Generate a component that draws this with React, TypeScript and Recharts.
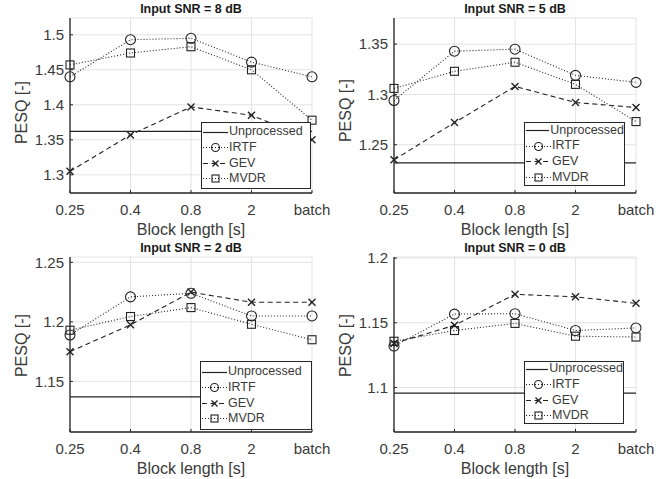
import React from 'react';
import { LineChart, Line, XAxis, YAxis, CartesianGrid } from 'recharts';

// ---------- data ----------
const blockLengths = ['0.25', '0.4', '0.8', '2', 'batch'];
const seriesNames = ['Unprocessed', 'IRTF', 'GEV', 'MVDR'];

const snr8Title = 'Input SNR = 8 dB';
const snr8Unprocessed = 1.362;
const snr8Irtf = [1.44, 1.493, 1.495, 1.461, 1.44];
const snr8Gev = [1.305, 1.357, 1.397, 1.385, 1.35];
const snr8Mvdr = [1.457, 1.474, 1.483, 1.45, 1.378];
const snr8Ticks = [1.3, 1.35, 1.4, 1.45, 1.5];
const snr8Domain: [number, number] = [1.274, 1.524];

const snr5Title = 'Input SNR = 5 dB';
const snr5Unprocessed = 1.232;
const snr5Irtf = [1.294, 1.343, 1.345, 1.319, 1.312];
const snr5Gev = [1.235, 1.272, 1.308, 1.292, 1.287];
const snr5Mvdr = [1.306, 1.323, 1.332, 1.31, 1.273];
const snr5Ticks = [1.25, 1.3, 1.35];
const snr5Domain: [number, number] = [1.202, 1.376];

const snr2Title = 'Input SNR = 2 dB';
const snr2Unprocessed = 1.137;
const snr2Irtf = [1.189, 1.221, 1.224, 1.205, 1.205];
const snr2Gev = [1.175, 1.1975, 1.225, 1.2165, 1.2165];
const snr2Mvdr = [1.193, 1.2045, 1.212, 1.198, 1.185];
const snr2Ticks = [1.15, 1.2, 1.25];
const snr2Domain: [number, number] = [1.1075, 1.2545];

const snr0Title = 'Input SNR = 0 dB';
const snr0Unprocessed = 1.0957;
const snr0Irtf = [1.132, 1.1567, 1.157, 1.144, 1.146];
const snr0Gev = [1.134, 1.148, 1.172, 1.17, 1.165];
const snr0Mvdr = [1.1357, 1.144, 1.1495, 1.1396, 1.139];
const snr0Ticks = [1.1, 1.15, 1.2];
const snr0Domain: [number, number] = [1.0656, 1.2008];

// ---------- styling / layout ----------
const FONT = '"Liberation Sans", Arial, Helvetica, sans-serif';
const INK = '#222222';
const TEXT = '#3a3a3a';
const AXIS = '#262626';
const CHART_W = 335;
const CHART_H = 240;
const MARGIN = { top: 18, right: 23, bottom: 0, left: 0 };
const Y_AXIS_W = 70;
const X_AXIS_H = 47;

type PanelDef = {
  title: string;
  unprocessed: number;
  irtf: number[];
  gev: number[];
  mvdr: number[];
  ticks: number[];
  domain: [number, number];
  left: number;
  top: number;
  legend: { x: number; y: number; w: number; h: number };
  yLabelShift: number;
};

const panels: PanelDef[] = [
  { title: snr8Title, unprocessed: snr8Unprocessed, irtf: snr8Irtf, gev: snr8Gev, mvdr: snr8Mvdr, ticks: snr8Ticks, domain: snr8Domain, left: 0, top: 0, legend: { x: 201, y: 122, w: 110, h: 67 }, yLabelShift: 7 },
  { title: snr5Title, unprocessed: snr5Unprocessed, irtf: snr5Irtf, gev: snr5Gev, mvdr: snr5Mvdr, ticks: snr5Ticks, domain: snr5Domain, left: 324, top: 0, legend: { x: 200, y: 122, w: 101, h: 64 }, yLabelShift: 5 },
  { title: snr2Title, unprocessed: snr2Unprocessed, irtf: snr2Irtf, gev: snr2Gev, mvdr: snr2Mvdr, ticks: snr2Ticks, domain: snr2Domain, left: 0, top: 239, legend: { x: 200, y: 122, w: 112, h: 69 }, yLabelShift: 1 },
  { title: snr0Title, unprocessed: snr0Unprocessed, irtf: snr0Irtf, gev: snr0Gev, mvdr: snr0Mvdr, ticks: snr0Ticks, domain: snr0Domain, left: 324, top: 239, legend: { x: 200, y: 122, w: 100, h: 63 }, yLabelShift: 1 },
];

// ---------- markers ----------
function CircleMark({ cx, cy, r = 5 }: { cx: number; cy: number; r?: number }) {
  return <circle cx={cx} cy={cy} r={r} fill="none" stroke={INK} strokeWidth={1.1} />;
}
function SquareMark({ cx, cy, s = 4 }: { cx: number; cy: number; s?: number }) {
  return <rect x={cx - s} y={cy - s} width={2 * s} height={2 * s} fill="none" stroke={INK} strokeWidth={1.1} />;
}
function CrossMark({ cx, cy, s = 3.5 }: { cx: number; cy: number; s?: number }) {
  return (
    <path
      d={`M${cx - s},${cy - s}L${cx + s},${cy + s}M${cx - s},${cy + s}L${cx + s},${cy - s}`}
      stroke={INK}
      strokeWidth={1.4}
      fill="none"
    />
  );
}

const circleDot = (props: any) =>
  props.cx == null ? <g key={`c${props.index}`} /> : <g key={`c${props.index}`}><CircleMark cx={props.cx} cy={props.cy} /></g>;
const squareDot = (props: any) =>
  props.cx == null ? <g key={`s${props.index}`} /> : <g key={`s${props.index}`}><SquareMark cx={props.cx} cy={props.cy} /></g>;
const crossDot = (props: any) =>
  props.cx == null ? <g key={`x${props.index}`} /> : <g key={`x${props.index}`}><CrossMark cx={props.cx} cy={props.cy} /></g>;

// ---------- legend ----------
function LegendIcon({ name }: { name: string }) {
  const w = 25;
  const y = 7.5;
  if (name === 'Unprocessed')
    return (
      <svg width={w} height={15}>
        <line x1={0} y1={y} x2={w} y2={y} stroke={INK} strokeWidth={1.2} />
      </svg>
    );
  if (name === 'GEV')
    return (
      <svg width={w} height={15}>
        <line x1={0} y1={y} x2={w} y2={y} stroke={INK} strokeWidth={1.1} strokeDasharray="5 3.5" />
        <CrossMark cx={w / 2} cy={y} s={3} />
      </svg>
    );
  return (
    <svg width={w} height={15}>
      <line x1={0} y1={y} x2={w} y2={y} stroke={INK} strokeWidth={1.1} strokeDasharray="1 2" />
      {name === 'IRTF' ? <CircleMark cx={w / 2} cy={y} r={4} /> : <SquareMark cx={w / 2} cy={y} s={3.5} />}
    </svg>
  );
}

function LegendBox({ box }: { box: { x: number; y: number; w: number; h: number } }) {
  return (
    <div
      style={{
        position: 'absolute',
        left: box.x,
        top: box.y,
        width: box.w,
        height: box.h,
        boxSizing: 'border-box',
        border: '1.2px solid #262626',
        background: '#ffffff',
        display: 'flex',
        flexDirection: 'column',
        justifyContent: 'center',
        paddingLeft: 1,
        fontFamily: FONT,
        fontSize: 12.5,
        color: TEXT,
      }}
    >
      {seriesNames.map((n) => (
        <div key={n} style={{ display: 'flex', alignItems: 'center', height: 15.6, lineHeight: '15.6px', whiteSpace: 'nowrap' }}>
          <LegendIcon name={n} />
          <span style={{ marginLeft: 1 }}>{n}</span>
        </div>
      ))}
    </div>
  );
}

// ---------- panel ----------
function Panel({ p }: { p: PanelDef }) {
  const data = blockLengths.map((b, i) => ({
    block: b,
    unprocessed: p.unprocessed,
    irtf: p.irtf[i],
    gev: p.gev[i],
    mvdr: p.mvdr[i],
  }));
  const plotLeft = MARGIN.left + Y_AXIS_W;
  const plotRight = CHART_W - MARGIN.right;
  const plotTop = MARGIN.top;
  const plotBottom = CHART_H - X_AXIS_H - MARGIN.bottom;
  const plotCx = (plotLeft + plotRight) / 2;
  const plotCy = (plotTop + plotBottom) / 2 + p.yLabelShift;

  return (
    <div style={{ position: 'absolute', left: p.left, top: p.top, width: CHART_W, height: CHART_H }}>
      <LineChart width={CHART_W} height={CHART_H} data={data} margin={MARGIN}>
        <CartesianGrid stroke="#e3e3e3" strokeWidth={1} />
        <XAxis
          dataKey="block"
          type="category"
          height={X_AXIS_H}
          interval={0}
          tickLine={{ stroke: AXIS, strokeWidth: 1 }}
          tickSize={-3}
          tickMargin={14}
          axisLine={{ stroke: AXIS, strokeWidth: 1.3 }}
          tick={{ fontSize: 15, fill: TEXT, fontFamily: FONT }}
          label={() => (
            <text x={plotCx} y={plotBottom + 42} textAnchor="middle" fontSize={16} fill={TEXT} fontFamily={FONT}>
              Block length [s]
            </text>
          )}
        />
        <YAxis
          type="number"
          domain={p.domain}
          ticks={p.ticks}
          allowDataOverflow
          width={Y_AXIS_W}
          tickLine={{ stroke: AXIS, strokeWidth: 1 }}
          tickSize={-3}
          tickMargin={9}
          axisLine={{ stroke: AXIS, strokeWidth: 1.3 }}
          tick={{ fontSize: 15, fill: TEXT, fontFamily: FONT }}
          label={() => (
            <text
              x={27}
              y={plotCy}
              transform={`rotate(-90, 27, ${plotCy})`}
              textAnchor="middle"
              fontSize={16}
              fill={TEXT}
              fontFamily={FONT}
            >
              PESQ [-]
            </text>
          )}
        />
        <Line type="linear" dataKey="unprocessed" stroke={INK} strokeWidth={1.3} dot={false} activeDot={false} isAnimationActive={false} />
        <Line type="linear" dataKey="irtf" stroke={INK} strokeWidth={1.1} strokeDasharray="1 2" dot={circleDot} activeDot={false} isAnimationActive={false} />
        <Line type="linear" dataKey="gev" stroke={INK} strokeWidth={1.1} strokeDasharray="5 3.5" dot={crossDot} activeDot={false} isAnimationActive={false} />
        <Line type="linear" dataKey="mvdr" stroke={INK} strokeWidth={1.1} strokeDasharray="1 2" dot={squareDot} activeDot={false} isAnimationActive={false} />
      </LineChart>
      <div
        style={{
          position: 'absolute',
          left: plotLeft,
          width: plotRight - plotLeft,
          top: 1,
          textAlign: 'center',
          fontFamily: FONT,
          fontWeight: 'bold',
          fontSize: 12.5,
          lineHeight: '16px',
          color: '#1a1a1a',
          whiteSpace: 'nowrap',
        }}
      >
        {p.title}
      </div>
      <LegendBox box={p.legend} />
    </div>
  );
}

export default function App() {
  return (
    <div style={{ position: 'absolute', left: 0, top: 0, width: 671, height: 479, background: '#ffffff' }}>
      {panels.map((p) => (
        <Panel key={p.title} p={p} />
      ))}
    </div>
  );
}
